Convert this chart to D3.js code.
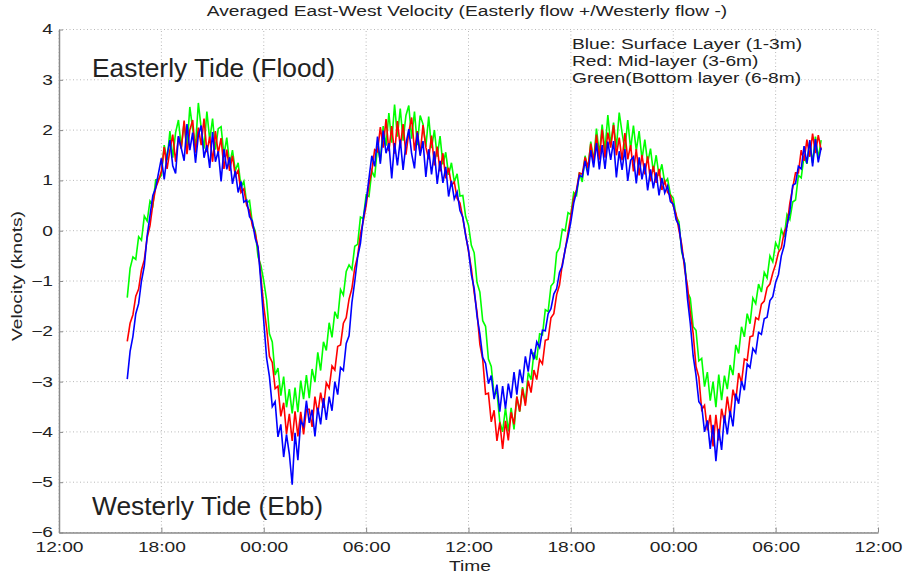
<!DOCTYPE html>
<html>
<head>
<meta charset="utf-8">
<script src="https://cdn.jsdelivr.net/npm/d3@7/dist/d3.min.js"></script>
<style>
  body { margin: 0; background: #fff; }
  svg text { font-family: "Liberation Sans", Arial, sans-serif; fill: #222; }
</style>
</head>
<body>
<div id="chart-container"></div>
<script>
/**************************************************
 * Data (one sample / 10 min,
 * each row is two hours)
 **************************************************/

const startTime = new Date(2000, 0, 1, 16, 0);
const stepMinutes = 10;

// Blue: surface layer (1-3m)
const surfaceLayer = [
  -2.95, -2.4, -2.1, -1.65, -1.45, -1.0, -0.7, -0.1, 0.3, 0.7, 0.85, 1.15,
  1.44, 1.02, 1.5, 1.8, 1.29, 1.14, 1.88, 1.64, 1.39, 2.12, 1.6, 1.95,
  1.35, 1.9, 2.09, 1.45, 1.7, 1.25, 1.96, 1.37, 1.58, 0.98, 1.62, 1.22,
  1.46, 0.93, 1.19, 0.76, 0.98, 0.57, 0.61, 0.28, 0.19, -0.15, -0.33, -1.04,
  -1.8, -2.53, -2.9, -3.5, -3.4, -4.1, -3.85, -4.5, -4.05, -4.44, -5.05, -4.02,
  -4.56, -3.78, -3.89, -3.38, -3.82, -3.56, -4.09, -3.52, -3.85, -3.33, -3.76, -3.3,
  -3.58, -3.0, -3.26, -2.72, -2.78, -2.24, -2.09, -1.43, -1.01, -0.53, -0.25, 0.25,
  0.59, 1.04, 1.49, 1.28, 1.87, 1.33, 1.99, 1.54, 1.74, 1.04, 1.74, 1.3,
  1.81, 1.21, 1.72, 2.02, 1.53, 1.24, 1.95, 1.49, 1.78, 1.07, 1.62, 1.12,
  1.58, 0.93, 1.39, 0.95, 1.27, 0.68, 0.99, 0.63, 0.77, 0.4, 0.27, -0.1,
  -0.38, -0.87, -1.15, -1.7, -2.05, -2.52, -2.64, -3.04, -2.88, -3.35, -3.06, -3.6,
  -3.09, -3.54, -3.04, -3.33, -2.81, -3.26, -2.76, -3.03, -2.5, -2.8, -2.35, -2.56,
  -2.21, -2.32, -1.98, -1.99, -1.65, -1.55, -1.26, -1.15, -0.83, -0.7, -0.37, -0.12,
  0.18, 0.55, 0.78, 1.1, 1.07, 1.39, 1.1, 1.6, 1.26, 1.74, 1.22, 1.7,
  1.23, 1.77, 1.41, 1.78, 1.06, 1.58, 1.21, 1.62, 0.99, 1.4, 1.47, 0.94,
  1.46, 1.02, 1.34, 0.8, 1.22, 0.84, 1.16, 0.7, 1.05, 0.75, 0.89, 0.58,
  0.53, 0.22, 0.11, -0.38, -0.66, -1.35, -1.85, -2.49, -2.87, -3.4, -3.48, -4.0,
  -3.77, -4.34, -3.86, -4.58, -3.94, -4.36, -3.67, -4.05, -3.58, -3.89, -3.24, -3.44,
  -2.99, -3.17, -2.65, -2.72, -2.34, -2.43, -2.02, -2.06, -1.75, -1.72, -1.39, -1.31,
  -1.03, -0.87, -0.5, -0.3, 0.1, 0.38, 0.9, 0.94, 1.28, 1.23, 1.68, 1.34,
  1.8, 1.28, 1.82, 1.36, 1.65
];

// Red: mid-layer (3-6m)
const midLayer = [
  -2.2, -1.84, -1.67, -1.3, -1.16, -0.78, -0.58, -0.14, 0.1, 0.53, 0.85, 1.0,
  1.18, 1.66, 1.23, 1.6, 1.91, 1.37, 1.87, 1.63, 2.19, 1.52, 2.0, 2.2,
  1.55, 2.05, 1.7, 2.23, 1.56, 1.87, 1.37, 1.98, 1.54, 1.84, 1.23, 1.61,
  1.19, 1.49, 1.09, 1.2, 0.76, 0.83, 0.5, 0.4, 0.1, -0.05, -0.34, -0.92,
  -1.5, -1.93, -2.5, -2.62, -3.14, -3.09, -3.69, -3.42, -4.04, -3.64, -4.18, -3.59,
  -4.09, -3.6, -4.05, -3.55, -3.55, -3.9, -3.3, -3.64, -3.22, -3.52, -3.02, -3.13,
  -2.69, -2.77, -2.3, -2.27, -1.84, -1.73, -1.36, -1.15, -0.74, -0.51, -0.07, 0.19,
  0.5, 0.92, 1.19, 1.61, 1.57, 2.06, 1.65, 2.22, 1.58, 2.08, 1.53, 2.18,
  1.67, 2.12, 1.51, 1.96, 2.25, 1.59, 1.98, 1.52, 2.1, 1.66, 1.42, 1.89,
  1.3, 1.67, 1.18, 1.54, 1.04, 1.25, 0.9, 0.97, 0.64, 0.55, 0.25, -0.08,
  -0.41, -0.75, -1.23, -1.62, -2.26, -2.56, -3.25, -3.23, -3.8, -3.57, -4.18, -3.81,
  -4.34, -3.78, -4.17, -3.61, -3.85, -3.3, -3.59, -3.14, -3.48, -2.98, -3.22, -2.77,
  -2.96, -2.56, -2.65, -2.18, -2.16, -1.73, -1.65, -1.27, -1.08, -0.66, -0.38, -0.04,
  0.3, 0.64, 0.82, 1.15, 1.12, 1.46, 1.25, 1.73, 1.36, 1.91, 1.41, 2.01,
  1.45, 1.95, 1.65, 2.1, 1.5, 1.85, 1.4, 1.94, 1.42, 1.7, 1.18, 1.62,
  1.1, 1.51, 1.12, 1.48, 0.98, 1.29, 0.95, 1.23, 0.81, 0.99, 0.76, 0.7,
  0.49, 0.33, 0.01, -0.28, -0.76, -1.1, -1.63, -2.04, -2.7, -2.91, -3.56, -3.47,
  -3.97, -3.66, -4.29, -3.66, -4.17, -3.54, -3.81, -3.3, -3.69, -3.16, -3.38, -2.83,
  -3.02, -2.55, -2.58, -2.11, -2.09, -1.73, -1.77, -1.46, -1.4, -1.13, -1.06, -0.84,
  -0.67, -0.43, -0.34, -0.03, 0.09, 0.55, 0.85, 1.15, 1.15, 1.6, 1.39, 1.81,
  1.47, 1.93, 1.54, 1.9, 1.6
];

// Green: bottom layer (6-8m)
const bottomLayer = [
  -1.33, -0.75, -0.52, -0.57, -0.12, -0.19, 0.29, 0.19, 0.59, 0.5, 1.01, 1.03,
  1.1, 1.7, 1.4, 1.98, 1.45, 1.95, 2.2, 1.65, 2.15, 1.63, 2.46, 2.02,
  1.68, 2.54, 2.04, 1.63, 2.37, 1.8, 2.23, 1.61, 2.03, 2.07, 1.5, 1.85,
  1.31, 1.6, 1.19, 1.35, 0.86, 0.98, 0.55, 0.6, 0.15, -0.01, -0.52, -0.69,
  -1.0, -1.38, -2.05, -2.21, -2.87, -2.73, -3.28, -2.9, -3.51, -3.15, -3.63, -3.12,
  -3.61, -2.98, -3.35, -2.87, -3.33, -2.75, -3.01, -2.42, -2.78, -2.21, -2.38, -1.83,
  -2.12, -1.61, -1.75, -1.17, -1.28, -0.81, -0.68, -0.77, -0.31, -0.27, 0.27, 0.24,
  0.71, 0.68, 1.19, 1.06, 1.68, 1.38, 2.08, 1.69, 2.34, 1.75, 2.51, 1.87,
  2.43, 1.79, 2.29, 2.49, 1.83, 2.37, 1.7, 2.29, 2.12, 1.67, 2.27, 1.64,
  2.0, 1.47, 1.88, 1.32, 1.56, 1.11, 1.35, 0.97, 1.13, 0.69, 0.7, 0.28,
  0.11, -0.29, -0.44, -1.03, -1.22, -1.79, -1.9, -2.55, -2.7, -3.27, -3.19, -3.8,
  -4.0, -3.52, -3.99, -3.52, -3.95, -3.3, -3.6, -3.11, -3.42, -2.82, -2.96, -2.42,
  -2.57, -2.05, -2.07, -1.57, -1.61, -1.1, -1.03, -0.44, -0.34, 0.03, 0.0, 0.36,
  0.32, 0.76, 0.7, 1.16, 0.97, 1.49, 1.21, 1.77, 1.38, 2.03, 1.52, 2.11,
  1.6, 2.3, 1.7, 2.15, 1.65, 2.35, 1.95, 1.6, 2.2, 1.62, 2.09, 1.59,
  1.98, 1.42, 1.81, 1.35, 1.63, 1.17, 1.5, 1.09, 1.32, 0.95, 1.03, 0.72,
  0.65, 0.29, 0.18, -0.43, -0.64, -1.22, -1.34, -1.91, -1.98, -2.59, -2.54, -3.1,
  -2.81, -3.38, -3.0, -3.51, -2.86, -3.37, -2.88, -3.15, -2.67, -2.87, -2.27, -2.44,
  -1.91, -2.11, -1.65, -1.85, -1.34, -1.45, -1.06, -1.22, -0.83, -0.94, -0.5, -0.62,
  -0.24, -0.36, 0.02, -0.13, 0.32, 0.22, 0.57, 0.61, 1.1, 1.05, 1.49, 1.33,
  1.77, 1.35, 1.87, 1.44, 1.8
];

const yTicks = [-6, -5, -4, -3, -2, -1, 0, 1, 2, 3, 4];
const legendLines = [
  "Blue: Surface Layer (1-3m)",
  "Red: Mid-layer (3-6m)",
  "Green(Bottom layer (6-8m)"
];

/**************************************************
 * Rendering
 **************************************************/

const width = 906, height = 577;
const SX = 1.37; // the reference figure is stretched sideways

const svg = d3.select("#chart-container")
  .append("svg")
  .attr("width", width)
  .attr("height", height);

const x = d3.scaleTime()
  .domain([new Date(2000, 0, 1, 12, 0), new Date(2000, 0, 3, 12, 0)])
  .range([59, 878]);

const y = d3.scaleLinear()
  .domain([-6, 4])
  .range([532.5, 29.5]);

const xTicks = d3.timeHour.every(6).range(x.domain()[0], d3.timeMinute.offset(x.domain()[1], 1));

// dotted grid
svg.append("g")
  .selectAll("line")
  .data(xTicks)
  .join("line")
  .attr("x1", d => x(d)).attr("x2", d => x(d))
  .attr("y1", y(-6)).attr("y2", y(4))
  .attr("stroke", "#b8b8b8")
  .attr("stroke-dasharray", "1,2.5");

svg.append("g")
  .selectAll("line")
  .data(yTicks)
  .join("line")
  .attr("x1", x.range()[0]).attr("x2", x.range()[1])
  .attr("y1", d => y(d)).attr("y2", d => y(d))
  .attr("stroke", "#b8b8b8")
  .attr("stroke-dasharray", "1,2.5");

// series, blue drawn last so it sits on top
const timeAt = i => d3.timeMinute.offset(startTime, i * stepMinutes);
const line = d3.line()
  .x((d, i) => x(timeAt(i)))
  .y(d => y(d));

[[bottomLayer, "#00ff00"], [midLayer, "#ff0000"], [surfaceLayer, "#0000ff"]].forEach(([vals, col]) => {
  svg.append("path")
    .datum(vals)
    .attr("fill", "none")
    .attr("stroke", col)
    .attr("stroke-width", 1.6)
    .attr("d", line);
});

// axes
const xAxis = svg.append("g")
  .attr("transform", `translate(0,${y(-6)})`)
  .call(d3.axisBottom(x)
    .tickValues(xTicks)
    .tickFormat(d3.timeFormat("%H:%M"))
    .tickSizeInner(-5)
    .tickSizeOuter(0)
    .tickPadding(10));

const yAxis = svg.append("g")
  .attr("transform", `translate(${x.range()[0]},0)`)
  .call(d3.axisLeft(y)
    .tickValues(yTicks)
    .tickFormat(d3.format("d"))
    .tickSizeInner(-4)
    .tickSizeOuter(0)
    .tickPadding(5));

[xAxis, yAxis].forEach(g => {
  g.select(".domain").attr("stroke", "#8a8a8a").attr("stroke-width", 1.5);
  g.selectAll(".tick line").attr("stroke", "#8a8a8a");
  g.selectAll(".tick text")
    .attr("font-size", 14)
    .attr("font-family", "Liberation Sans, Arial, sans-serif")
    .attr("fill", "#222");
});
xAxis.selectAll(".tick text").attr("transform", `scale(${SX},1)`);
yAxis.selectAll(".tick text").attr("x", -6 / SX).attr("transform", `scale(${SX},1)`);

// titles
function stretchedText(tx, ty, str, size, anchor) {
  return svg.append("text")
    .attr("transform", `translate(${tx},${ty}) scale(${SX},1)`)
    .attr("text-anchor", anchor)
    .attr("font-size", size)
    .text(str);
}

stretchedText(467, 16, "Averaged East-West Velocity (Easterly flow +/Westerly flow -)", 14, "middle");
stretchedText(470, 571, "Time", 14, "middle");

svg.append("text")
  .attr("transform", `translate(22,276) rotate(-90) scale(${SX},1)`)
  .attr("text-anchor", "middle")
  .attr("font-size", 14)
  .text("Velocity (knots)");

legendLines.forEach((t, i) => {
  stretchedText(572, 49 + i * 17, t, 14, "start");
});

// annotations
svg.append("text")
  .attr("x", 92).attr("y", 77)
  .attr("font-family", "Lato, 'Open Sans', sans-serif")
  .attr("font-size", 25)
  .attr("textLength", 243)
  .attr("lengthAdjust", "spacingAndGlyphs")
  .attr("fill", "#111")
  .text("Easterly Tide (Flood)");

svg.append("text")
  .attr("x", 92).attr("y", 515)
  .attr("font-family", "Lato, 'Open Sans', sans-serif")
  .attr("font-size", 25)
  .attr("textLength", 231)
  .attr("lengthAdjust", "spacingAndGlyphs")
  .attr("fill", "#111")
  .text("Westerly Tide (Ebb)");
</script>
</body>
</html>
